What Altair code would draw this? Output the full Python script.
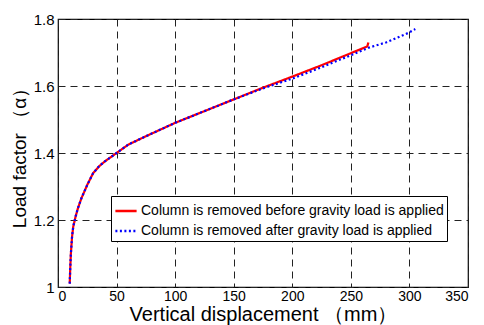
import altair as alt
import pandas as pd

series_names = ["Column is removed before gravity load is applied",
                "Column is removed after gravity load is applied"]

red_x = [10, 10.5, 11, 12, 13, 15, 17, 20, 25, 30, 35, 40, 50, 60, 75, 100, 125, 150, 175, 200, 225, 250, 264, 265]
red_y = [1.01, 1.06, 1.10, 1.15, 1.18, 1.21, 1.235, 1.265, 1.305, 1.34, 1.36, 1.375, 1.40, 1.425, 1.45, 1.49, 1.525, 1.56, 1.595, 1.628, 1.662, 1.698, 1.718, 1.73]

blue_x = [10, 10.5, 11, 12, 13, 15, 17, 20, 25, 30, 35, 40, 50, 60, 75, 100, 125, 150, 175, 200, 225, 250, 265, 280, 290, 300, 305]
blue_y = [1.01, 1.06, 1.10, 1.15, 1.18, 1.21, 1.235, 1.265, 1.305, 1.34, 1.36, 1.375, 1.40, 1.425, 1.45, 1.49, 1.525, 1.56, 1.593, 1.622, 1.656, 1.692, 1.714, 1.73, 1.745, 1.76, 1.77]

rows = []
for i, (x, y) in enumerate(zip(red_x, red_y)):
    rows.append({"x": x, "y": y, "s": series_names[0], "o": i})
for i, (x, y) in enumerate(zip(blue_x, blue_y)):
    rows.append({"x": x, "y": y, "s": series_names[1], "o": i})
df = pd.DataFrame(rows)

font = "Liberation Sans"

chart = alt.Chart(df).mark_line(strokeWidth=2.2).encode(
    x=alt.X("x:Q", scale=alt.Scale(domain=[0, 350], nice=False),
            axis=alt.Axis(values=[0, 50, 100, 150, 200, 250, 300, 350],
                          title="Vertical displacement （mm）")),
    y=alt.Y("y:Q", scale=alt.Scale(domain=[1, 1.8], nice=False, zero=False),
            axis=alt.Axis(values=[1, 1.2, 1.4, 1.6, 1.8], format="~g",
                          title="Load factor （α）")),
    color=alt.Color("s:N", scale=alt.Scale(domain=series_names, range=["#ff0000", "#0000ff"]),
                    legend=alt.Legend(title=None, orient="none", legendX=53, legendY=177,
                                      direction="vertical", strokeColor="black", fillColor="white",
                                      padding=3, symbolType="stroke", symbolSize=450,
                                      symbolStrokeWidth=2.5, labelFont=font, labelFontSize=14,
                                      labelColor="black", rowPadding=1, labelOffset=3,
                                      labelLimit=0)),
    strokeDash=alt.StrokeDash("s:N", scale=alt.Scale(domain=series_names, range=[[1, 0], [2, 2.5]]),
                              legend=None),
    order="o:Q",
).properties(
    width=410, height=268,
    autosize=alt.AutoSizeParams(type="none"),
    padding={"left": 50, "top": 11, "right": 8, "bottom": 38},
).configure_view(
    stroke="black", strokeWidth=1.2
).configure_axis(
    grid=True, gridColor="#222222", gridDash=[7, 5], gridWidth=1, gridOpacity=1,
    domain=False, ticks=False,
    labelFont=font, labelFontSize=15, labelColor="black", labelPadding=4,
    titleFont=font, titleFontSize=19, titleColor="black", titleFontWeight="normal",
).configure_axisX(titlePadding=1, labelPadding=2, labelFontSize=14, titleFontSize=20).configure_axisY(titlePadding=4)

chart.save("out.html", embed_options={"renderer": "svg", "actions": False})
